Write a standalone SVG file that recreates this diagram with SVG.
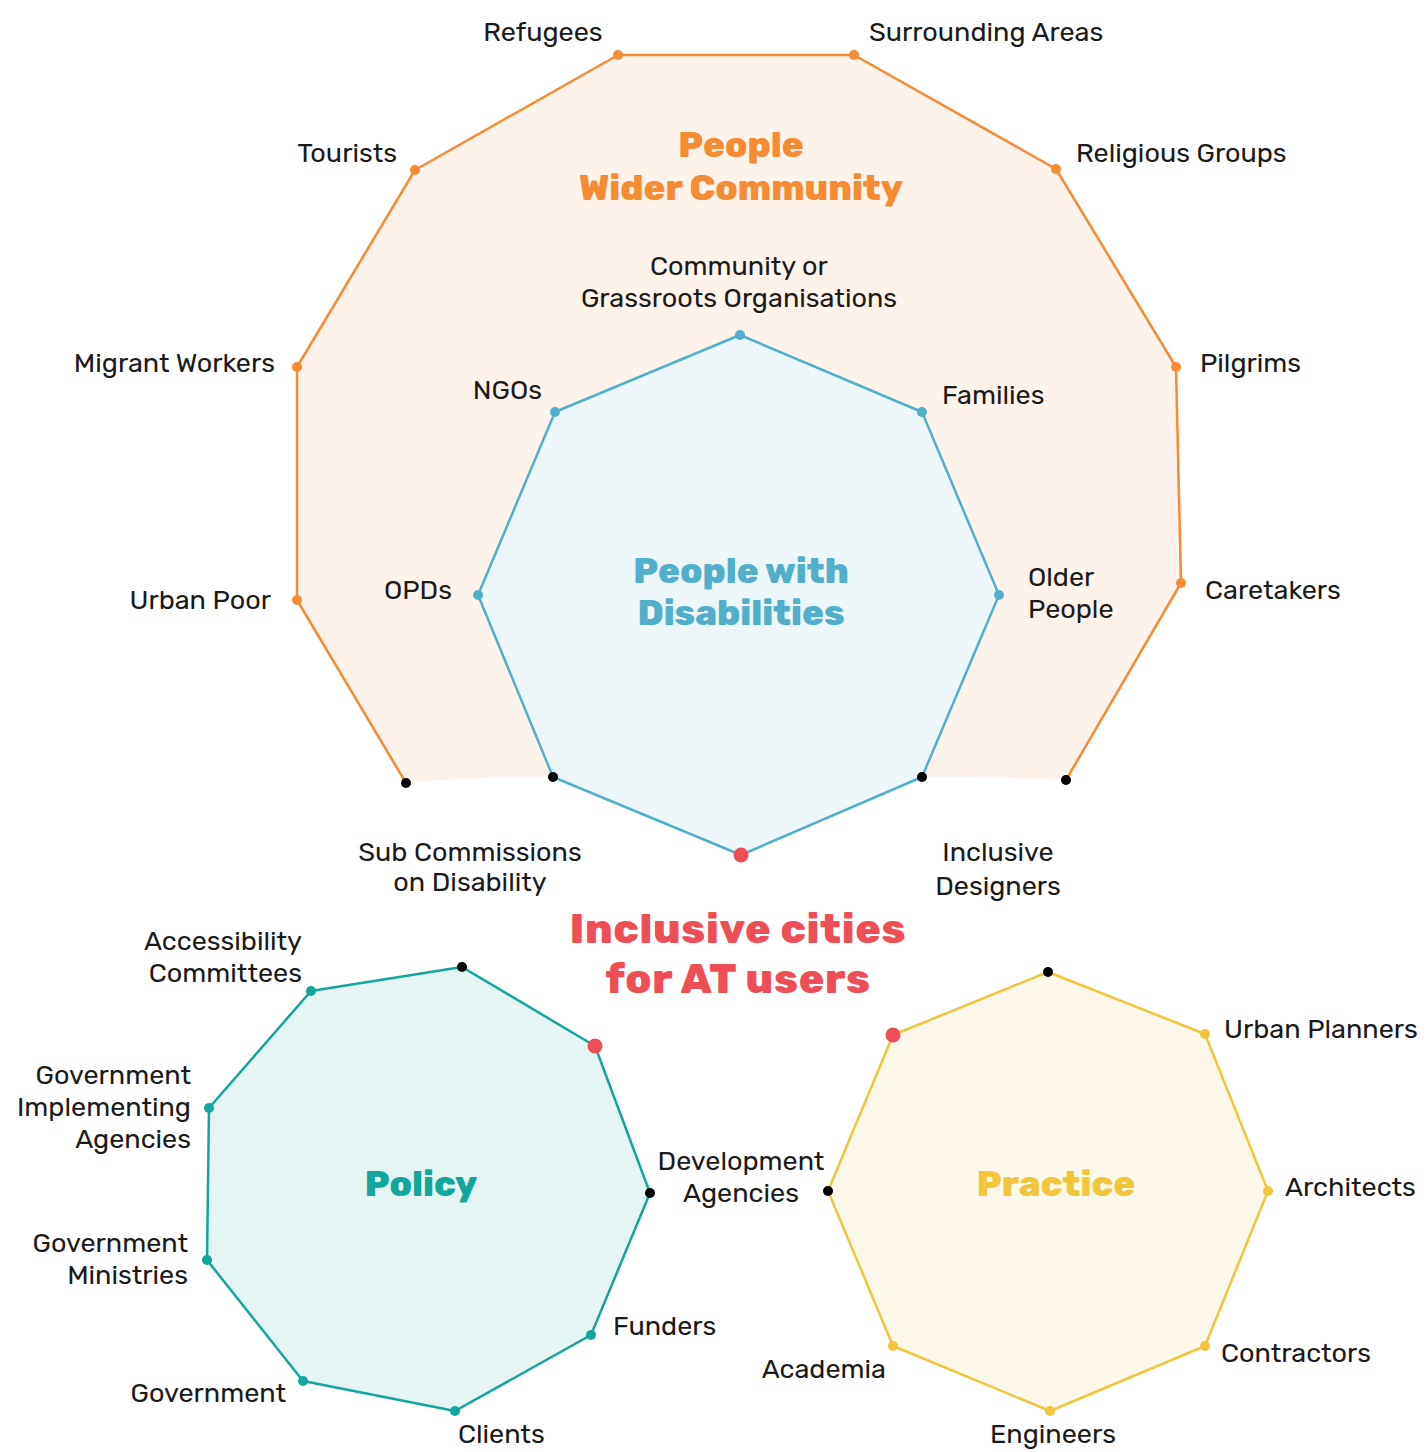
<svg xmlns="http://www.w3.org/2000/svg" width="1427" height="1452" viewBox="0 0 1427 1452">
<style>
text{font-family:Rubik,"Noto Sans",Roboto,"Liberation Sans",sans-serif;}
.lb{font-size:27px;fill:#1a1a1a;}
.e{text-anchor:end}.m{text-anchor:middle}
.t{font-weight:800;text-anchor:middle}
.o{fill:#F58B32}.b{fill:#52AFCC}.g{fill:#13A69A}.y{fill:#F2C53D}.r{fill:#EE4F57}.k{fill:#000}
</style>
<rect width="1427" height="1452" fill="#fff"/>
<g id="connectors">
  <path d="M406,783 L297,600 L297,367 L415,170 L618,55 L854,55 L1056,169 L1176,367 L1181,583 L1066,780 Q990,776 922,777 L553,777 Q480,776 406,783 Z" fill="#FDF3EB" stroke="none"/>
  <path d="M406,783 L297,600 L297,367 L415,170 L618,55 L854,55 L1056,169 L1176,367 L1181,583 L1066,780" fill="none" stroke="#F58B32" stroke-width="2.5" stroke-linejoin="round"/>
  <polygon points="740,335 922,412 999,595 922,777 741,855 553,777 478,595 555,412" fill="#EDF6F9" stroke="#52AFCC" stroke-width="2.5" stroke-linejoin="round"/>
  <polygon points="462,967 595,1046 650,1193 591,1335 455,1411 303,1381 207,1260 209,1108 311,991" fill="#E5F5F3" stroke="#13A69A" stroke-width="2.5" stroke-linejoin="round"/>
  <polygon points="1048,972 1205,1034 1268,1191 1205,1346 1050,1411 893,1346 828,1191 893,1035" fill="#FEF8EB" stroke="#F2C53D" stroke-width="2.5" stroke-linejoin="round"/>
</g>
<g id="title-people"><text class="t o" font-size="36"><tspan x="741" y="157">People</tspan><tspan x="741" y="200">Wider Community</tspan></text></g>
<g id="title-pwd"><text class="t b" font-size="36"><tspan x="741" y="583">People with</tspan><tspan x="741" y="625">Disabilities</tspan></text></g>
<g id="title-main"><text class="t r" x="738" y="943" font-size="42" letter-spacing="0.7">Inclusive cities</text><text class="t r" x="738" y="993" font-size="42" letter-spacing="0.7">for AT users</text></g>
<g id="title-policy"><text class="t g" x="421" y="1196" font-size="36">Policy</text></g>
<g id="title-practice"><text class="t y" x="1056" y="1196" font-size="36">Practice</text></g>

<g id="n-refugees"><circle class="o" cx="618" cy="55" r="5"/><text class="lb m" x="543" y="41">Refugees</text></g>
<g id="n-surrounding"><circle class="o" cx="854" cy="55" r="5"/><text class="lb" x="869" y="41">Surrounding Areas</text></g>
<g id="n-tourists"><circle class="o" cx="415" cy="170" r="5"/><text class="lb e" x="397" y="162">Tourists</text></g>
<g id="n-religious"><circle class="o" cx="1056" cy="169" r="5"/><text class="lb" x="1076" y="162">Religious Groups</text></g>
<g id="n-migrant"><circle class="o" cx="297" cy="367" r="5"/><text class="lb e" x="275" y="372">Migrant Workers</text></g>
<g id="n-pilgrims"><circle class="o" cx="1176" cy="367" r="5"/><text class="lb" x="1200" y="372">Pilgrims</text></g>
<g id="n-urbanpoor"><circle class="o" cx="297" cy="600" r="5"/><text class="lb e" x="271" y="609">Urban Poor</text></g>
<g id="n-caretakers"><circle class="o" cx="1181" cy="583" r="5"/><text class="lb" x="1205" y="599">Caretakers</text></g>
<g id="n-orange-bl"><circle class="k" cx="406" cy="783" r="5"/></g>
<g id="n-orange-br"><circle class="k" cx="1066" cy="780" r="5"/></g>

<g id="n-community"><circle class="b" cx="740" cy="335" r="5"/><text class="lb m"><tspan x="739" y="275">Community or</tspan><tspan x="739" y="307">Grassroots Organisations</tspan></text></g>
<g id="n-ngos"><circle class="b" cx="555" cy="412" r="5"/><text class="lb e" x="542" y="399">NGOs</text></g>
<g id="n-families"><circle class="b" cx="922" cy="412" r="5"/><text class="lb" x="942" y="404">Families</text></g>
<g id="n-opds"><circle class="b" cx="478" cy="595" r="5"/><text class="lb e" x="452" y="599">OPDs</text></g>
<g id="n-older"><circle class="b" cx="999" cy="595" r="5"/><text class="lb"><tspan x="1028" y="586">Older</tspan><tspan x="1028" y="618">People</tspan></text></g>
<g id="n-subcomm"><circle class="k" cx="553" cy="777" r="5"/><text class="lb m"><tspan x="470" y="861">Sub Commissions</tspan><tspan x="470" y="891">on Disability</tspan></text></g>
<g id="n-incldes"><circle class="k" cx="922" cy="777" r="5"/><text class="lb m"><tspan x="998" y="861">Inclusive</tspan><tspan x="998" y="895">Designers</tspan></text></g>
<g id="n-center"><circle class="r" cx="741" cy="855" r="7.5"/></g>

<g id="n-policy-top"><circle class="k" cx="462" cy="967" r="5"/></g>
<g id="n-policy-red"><circle class="r" cx="595" cy="1046" r="7.5"/></g>
<g id="n-access"><circle class="g" cx="311" cy="991" r="5"/><text class="lb e"><tspan x="302" y="950">Accessibility</tspan><tspan x="302" y="982">Committees</tspan></text></g>
<g id="n-gia"><circle class="g" cx="209" cy="1108" r="5"/><text class="lb e"><tspan x="191" y="1084">Government</tspan><tspan x="191" y="1116">Implementing</tspan><tspan x="191" y="1148">Agencies</tspan></text></g>
<g id="n-gm"><circle class="g" cx="207" cy="1260" r="5"/><text class="lb e"><tspan x="188" y="1252">Government</tspan><tspan x="188" y="1284">Ministries</tspan></text></g>
<g id="n-gov"><circle class="g" cx="303" cy="1381" r="5"/><text class="lb e" x="286" y="1402">Government</text></g>
<g id="n-clients"><circle class="g" cx="455" cy="1411" r="5"/><text class="lb" x="458" y="1443">Clients</text></g>
<g id="n-funders"><circle class="g" cx="591" cy="1335" r="5"/><text class="lb" x="613" y="1335">Funders</text></g>
<g id="n-devag"><circle class="k" cx="650" cy="1193" r="5"/><circle class="k" cx="828" cy="1191" r="5"/><text class="lb m"><tspan x="741" y="1170">Development</tspan><tspan x="741" y="1202">Agencies</tspan></text></g>

<g id="n-practice-top"><circle class="k" cx="1048" cy="972" r="5"/></g>
<g id="n-practice-red"><circle class="r" cx="893" cy="1035" r="7.5"/></g>
<g id="n-planners"><circle class="y" cx="1205" cy="1034" r="5"/><text class="lb" x="1224" y="1038">Urban Planners</text></g>
<g id="n-architects"><circle class="y" cx="1268" cy="1191" r="5"/><text class="lb" x="1285" y="1196">Architects</text></g>
<g id="n-contractors"><circle class="y" cx="1205" cy="1346" r="5"/><text class="lb" x="1221" y="1362">Contractors</text></g>
<g id="n-engineers"><circle class="y" cx="1050" cy="1411" r="5"/><text class="lb m" x="1053" y="1443">Engineers</text></g>
<g id="n-academia"><circle class="y" cx="893" cy="1346" r="5"/><text class="lb e" x="886" y="1378">Academia</text></g>
</svg>
